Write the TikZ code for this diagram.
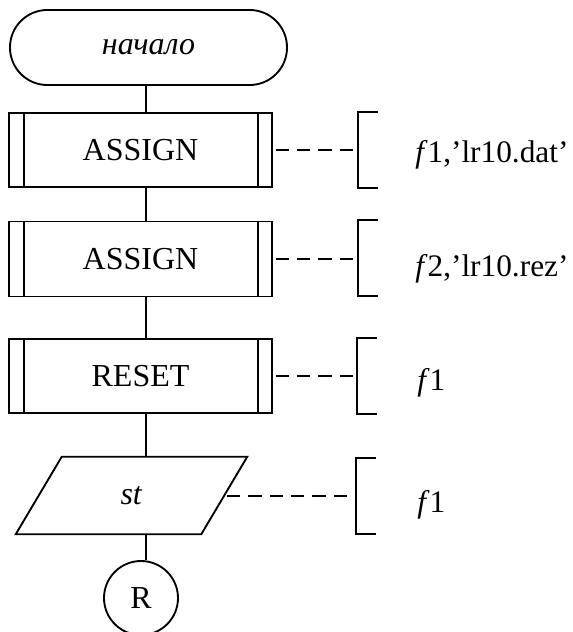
\documentclass[tikz,border=0pt]{standalone}
\usepackage{fontspec}
\setmainfont{Liberation Serif}
\usetikzlibrary{calc}

\begin{document}
\begin{tikzpicture}[x=0.75pt,y=-0.75pt,
  every node/.style={font=\fontsize{24pt}{28pt}\selectfont, inner sep=0pt},
  ln/.style={line width=1.4pt},
  terminal/.style={ln, draw, rectangle, rounded corners=28pt,
    minimum width=207.75pt, minimum height=56.25pt},
  procbox/.style={ln, draw, rectangle, minimum width=197.25pt, minimum height=55.5pt,
    append after command={
      \pgfextra{\draw[ln]
        ($(\tikzlastnode.north west)+(16,0)$) -- ($(\tikzlastnode.south west)+(16,0)$)
        ($(\tikzlastnode.north east)+(-15,0)$) -- ($(\tikzlastnode.south east)+(-15,0)$);}}},
  ioframe/.style={rectangle, minimum width=173.25pt, minimum height=57.75pt},
  connector/.style={ln, draw, circle, minimum size=55.5pt},
  bracket/.style={rectangle, minimum width=15pt, minimum height=57pt},
  flow/.style={ln},
  note/.style={line width=1.2pt, dash pattern=on 10pt off 6pt, dash phase=14pt},
  comment/.style={anchor=base west, font=\fontsize{23.5pt}{28pt}\selectfont}
]
\useasboundingbox (0,0) rectangle (572,632);

% main column
\coordinate (spine) at (146,0);
\node[terminal] (start) at (148.5,47.5) {\textit{начало}};
\node[procbox] (a1) at (140.5,150) {ASSIGN};
\node[procbox, minimum height=56.25pt] (a2) at (140.5,259) {ASSIGN};
\node[procbox] (rs) at (140.5,376) {RESET};
\node[ioframe] (para) at (131.5,495.5) {\textit{st}};
\draw[ln] ($(para.north west)+(46,0)$) -- (para.north east)
  -- ($(para.south east)+(-46,0)$) -- (para.south west) -- cycle;
\coordinate (paraR) at ($(para.east)+(-23,0.5)$);
\node[connector] (R) at (141,598) {R};

\draw[flow] (start.south -| spine) -- (a1.north -| spine);
\draw[flow] (a1.south -| spine) -- (a2.north -| spine);
\draw[flow] (a2.south -| spine) -- (rs.north -| spine);
\draw[flow] (rs.south -| spine) -- (para.north -| spine);
\draw[flow] (para.south -| spine) -- (R.north -| spine);

% comment brackets
\node[bracket] (b1) at (368,150) {};
\node[bracket] (b2) at (368,258) {};
\node[bracket] (b3) at (367,376) {};
\node[bracket] (b4) at (366,496) {};
\foreach \b in {b1,b2,b3,b4}{
  \draw[ln] (\b.north east) -- (\b.north west) -- (\b.south west) -- (\b.south east);
}

\draw[note] (a1.east) -- (a1.east -| b1.west);
\draw[note] (a2.east) -- (a2.east -| b2.west);
\draw[note] (rs.east) -- (rs.east -| b3.west);
\draw[note] (paraR) -- (paraR -| b4.west);

\node[comment] (c1) at (415,162) {\textit{f}1,’lr10.dat’};
\node[comment] (c2) at (415,276) {\textit{f}2,’lr10.rez’};
\node[comment] (c3) at (417,390) {\textit{f}1};
\node[comment] (c4) at (417,512) {\textit{f}1};
\end{tikzpicture}
\end{document}
